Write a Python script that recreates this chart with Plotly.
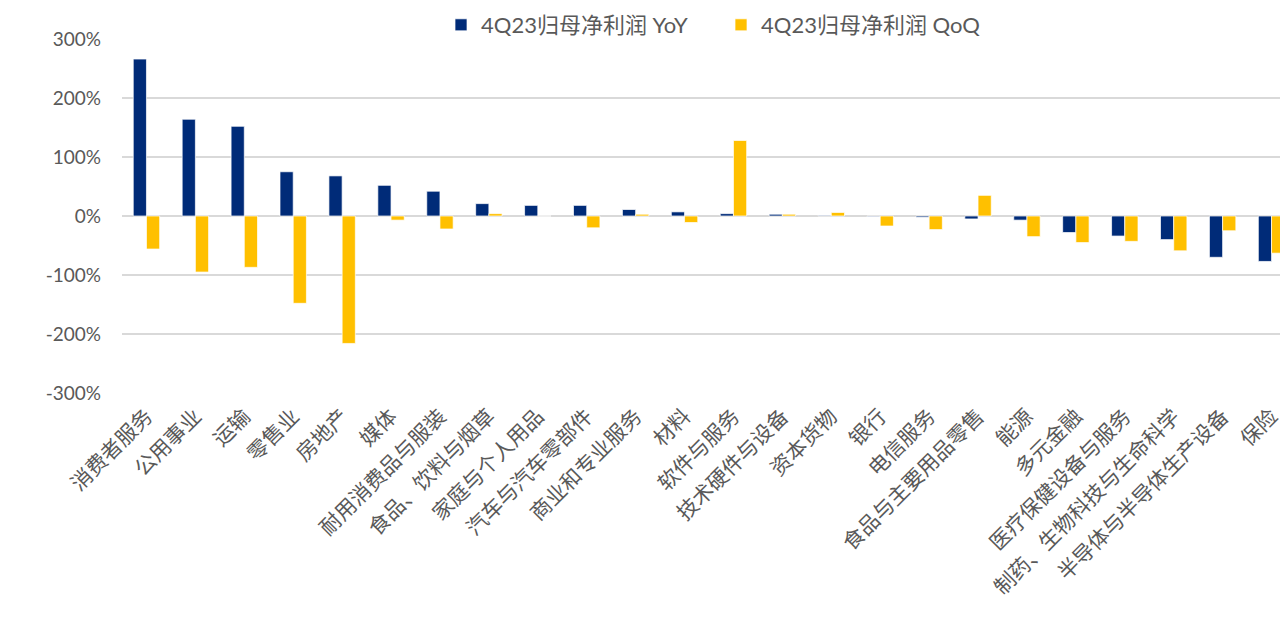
import plotly.graph_objects as go

categories = ["消费者服务", "公用事业", "运输", "零售业", "房地产", "媒体",
              "耐用消费品与服装", "食品、饮料与烟草", "家庭与个人用品", "汽车与汽车零部件",
              "商业和专业服务", "材料", "软件与服务", "技术硬件与设备", "资本货物", "银行",
              "电信服务", "食品与主要用品零售", "能源", "多元金融", "医疗保健设备与服务",
              "制药、生物科技与生命科学", "半导体与半导体生产设备", "保险"]
yoy = [266, 164, 152, 75, 68, 52, 42, 21, 18, 18, 11, 7, 4, 3, 1, -1,
       -2, -5, -7, -28, -34, -40, -70, -77]
qoq = [-56, -95, -87, -148, -216, -7, -22, 4, 0, -20, 3, -11, 128, 3, 6, -17,
       -23, 35, -35, -45, -43, -59, -25, -63]
series_names = ["4Q23归母净利润 YoY", "4Q23归母净利润 QoQ"]
colors = ["#002B78", "#FFC000"]
y_ticks = [300, 200, 100, 0, -100, -200, -300]

fig = go.Figure()
for name, vals, c in zip(series_names, [yoy, qoq], colors):
    fig.add_trace(go.Bar(x=categories, y=vals, name=name,
                         marker=dict(color=c, line=dict(color="rgba(255,255,255,0.7)", width=1))))

fig.update_layout(
    width=1288, height=625,
    barmode="group", bargap=0.46, bargroupgap=0,
    plot_bgcolor="white", paper_bgcolor="white",
    margin=dict(l=114, r=0, t=31, b=240, autoexpand=False),
    font=dict(family="Noto Sans CJK SC", color="#595959"),
    legend=dict(orientation="h", x=0.3362, xanchor="left", xref="container",
                y=1 - 17 / 625, yanchor="middle", yref="container",
                font=dict(size=22, family="Lato, Noto Sans CJK SC", color="#595959"),
                itemwidth=30, entrywidth=235, entrywidthmode="pixels",
                tracegroupgap=0, traceorder="normal"),
    showlegend=True,
)
fig.update_yaxes(range=[-300, 300], tickvals=y_ticks,
                 ticktext=[f"{v}%" for v in y_ticks],
                 showgrid=True, gridcolor="#D9D9D9", gridwidth=2,
                 zeroline=True, zerolinecolor="#D9D9D9", zerolinewidth=2,
                 tickfont=dict(size=19, family="Lato", color="#595959"),
                 ticks="", ticklabelstandoff=20)
fig.update_xaxes(tickangle=-45, tickfont=dict(size=21, family="Noto Sans CJK SC", color="#595959"),
                 showline=False, ticks="", ticklabelstandoff=6)

fig.write_html("out.html")
